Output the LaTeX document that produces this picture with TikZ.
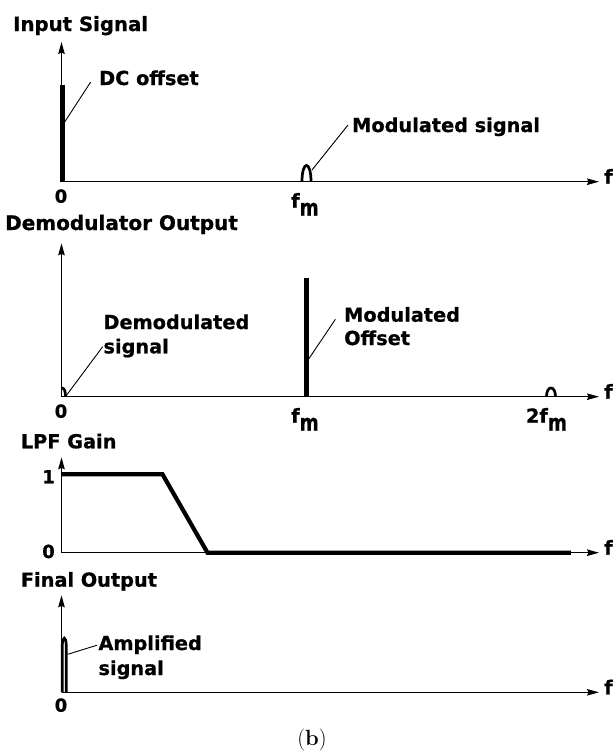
\documentclass[tikz,border=0pt]{standalone}
\usepackage{fontspec}
\usepackage{graphicx}
\usetikzlibrary{arrows.meta}
\newfontfamily\dvsans{DejaVu Sans}[BoldFeatures={FakeBold=0.8}]
\newcommand\subm{\raisebox{-8pt}{\scalebox{0.95}[1.2]{m}}}
\begin{document}
\begin{tikzpicture}[x=1pt,y=-1pt,
  axis/.style={line width=1.4pt,-{Stealth[length=12pt,width=6.5pt,inset=1.5pt]}},
  sig/.style={line width=4.2pt},
  bump/.style={line width=2.7pt},
  lead/.style={line width=0.9pt},
  lab/.style={font=\dvsans\bfseries\fontsize{19.3}{23}\selectfont,inner sep=0pt,anchor=base west},
  tick/.style={font=\dvsans\bfseries\fontsize{18}{22}\selectfont,inner sep=0pt,anchor=base},
]
\useasboundingbox (0,0) rectangle (613,756);

% ---------- Panel 1: Input Signal ----------
\coordinate (o1) at (61.5,181.7);
\coordinate (y1) at (61.5,42);
\coordinate (x1) at (599,181.7);
\draw[axis] (o1) -- (y1);
\draw[axis] (o1) -- (x1);
\node[lab,font=\dvsans\bfseries\fontsize{19.7}{23}\selectfont] (t1) at (13,31) {Input Signal};
\draw[sig] (62.5,181.7) -- (62.5,85);
\node[lab] (dc) at (99,85) {DC offset};
\coordinate (dcA) at (64,123);
\coordinate (dcB) at (90.7,82);
\draw[lead] (dcA) -- (dcB);
\draw[bump] (302,181.7) .. controls (302,160) and (311,160) .. (311,181.7);
\node[lab] (ms) at (352,132) {Modulated signal};
\coordinate (msA) at (312,170);
\coordinate (msB) at (348,125);
\draw[lead] (msA) -- (msB);
\node[tick] (z1) at (61,202.7) {0};
\node[lab] (fm1) at (291,207.7) {f\subm};
\node[lab] (f1) at (604,183.7) {f};

% ---------- Panel 2: Demodulator Output ----------
\coordinate (o2) at (61.5,396.7);
\coordinate (y2) at (61.5,243.3);
\coordinate (x2) at (599,396.7);
\draw[axis] (o2) -- (y2);
\draw[axis] (o2) -- (x2);
\node[lab,font=\dvsans\bfseries\fontsize{20}{23}\selectfont] (t2) at (5,230) {Demodulator Output};
\draw[bump] (61.5,388) .. controls (64.5,388) and (65.5,391) .. (65.5,396.7);
\coordinate (dmA) at (66.7,395);
\coordinate (dmB) at (102.7,346.7);
\draw[lead] (dmA) -- (dmB);
\node[lab] (dm1) at (103.3,329) {Demodulated};
\node[lab] (dm2) at (103.3,353.3) {signal};
\draw[sig] (306.5,396.7) -- (306.5,277.7);
\coordinate (moA) at (308,360);
\coordinate (moB) at (335.4,319.3);
\draw[lead] (moA) -- (moB);
\node[lab] (mo1) at (344,321.7) {Modulated};
\node[lab] (mo2) at (344,345) {Offset};
\draw[bump] (546.5,396.7) .. controls (546.5,385) and (555.5,385) .. (555.5,396.7);
\node[tick] (z2) at (61,417.7) {0};
\node[lab] (fm2) at (291,422.7) {f\subm};
\node[lab] (fm22) at (525.8,422.7) {2f\subm};
\node[lab] (f2) at (604,398.7) {f};

% ---------- Panel 3: LPF Gain ----------
\coordinate (o3) at (61.5,552.7);
\coordinate (y3) at (61.5,457.3);
\coordinate (x3) at (599,552.7);
\draw[axis] (o3) -- (y3);
\draw[axis] (o3) -- (x3);
\node[lab] (t3) at (20.7,448.3) {LPF Gain};
\draw[sig] (61.5,474.3) -- (162.5,474.3) -- (207.5,552.7) -- (570.8,552.7);
\node[tick] (one) at (48.5,483.3) {1};
\node[tick] (z3) at (48.5,558) {0};
\node[lab] (f3) at (604,554.7) {f};

% ---------- Panel 4: Final Output ----------
\coordinate (o4) at (61.5,692.3);
\coordinate (y4) at (61.5,595.3);
\coordinate (x4) at (599,692.3);
\draw[axis] (o4) -- (y4);
\draw[axis] (o4) -- (x4);
\node[lab] (t4) at (20.7,586.7) {Final Output};
\draw[bump] (62.3,692.3) -- (62.3,645) .. controls (62.3,636) and (66.2,636) .. (66.2,645) -- (66.2,692.3);
\coordinate (amA) at (67.7,654.3);
\coordinate (amB) at (96.7,645.3);
\draw[lead] (amA) -- (amB);
\node[lab] (am1) at (98.3,650) {Amplified};
\node[lab] (am2) at (98.3,675) {signal};
\node[tick] (z4) at (61,711.7) {0};
\node[lab] (f4) at (604,694.3) {f};

\node[font=\fontsize{22}{26}\selectfont,inner sep=0pt] (cap) at (312,740) {(\textbf{b})};
\end{tikzpicture}
\end{document}
